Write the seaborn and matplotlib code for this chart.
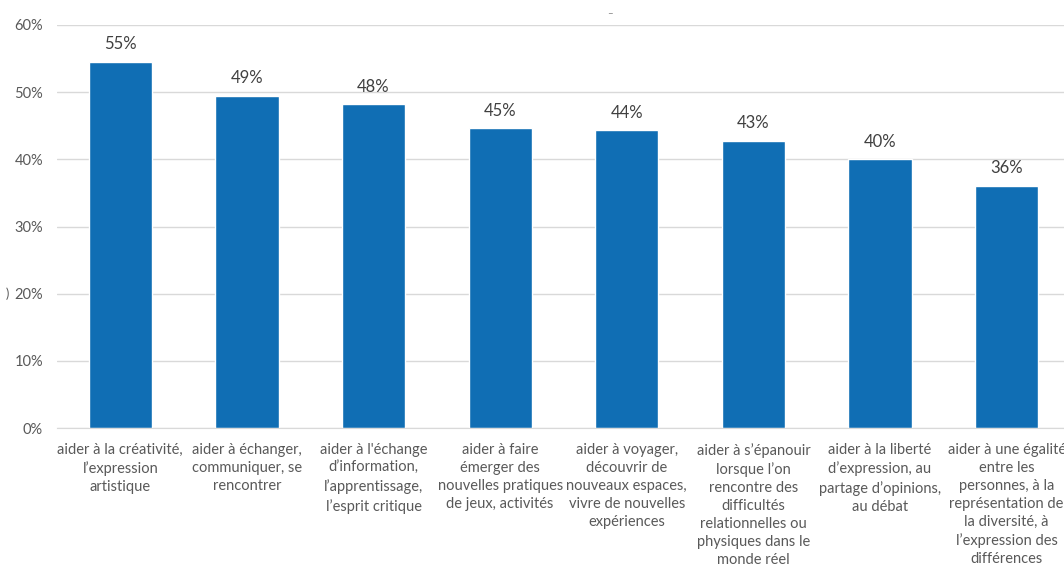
import matplotlib
matplotlib.use("Agg")
import matplotlib.pyplot as plt
import seaborn as sns
import pandas as pd
from matplotlib.ticker import PercentFormatter

# data
labels = [
    "aider à la créativité,\nl’expression\nartistique",
    "aider à échanger,\ncommuniquer, se\nrencontrer",
    "aider à l'échange\nd’information,\nl’apprentissage,\nl’esprit critique",
    "aider à faire\némerger des\nnouvelles pratiques\nde jeux, activités",
    "aider à voyager,\ndécouvrir de\nnouveaux espaces,\nvivre de nouvelles\nexpériences",
    "aider à s’épanouir\nlorsque l’on\nrencontre des\ndifficultés\nrelationnelles ou\nphysiques dans le\nmonde réel",
    "aider à la liberté\nd’expression, au\npartage d’opinions,\nau débat",
    "aider à une égalité\nentre les\npersonnes, à la\nreprésentation de\nla diversité, à\nl’expression des\ndifférences",
]
values = [54.5, 49.4, 48.2, 44.6, 44.3, 42.7, 40.0, 36.0]
shown = ["55%", "49%", "48%", "45%", "44%", "43%", "40%", "36%"]

df = pd.DataFrame({"label": labels, "value": values})

sns.set_style("white")
plt.rcParams["font.family"] = ["Lato", "DejaVu Sans"]

grey = "#595959"
blue = "#106EB4"

fig = plt.figure(figsize=(10.64, 5.65), dpi=100)
ax = fig.add_axes([57 / 1064, 137 / 565, 1013 / 1064, 403 / 565])

sns.barplot(data=df, x="label", y="value", color=blue, width=0.5,
            saturation=1, ax=ax, zorder=2)

ax.set_ylim(0, 60)
ax.set_yticks(range(0, 61, 10))
ax.yaxis.set_major_formatter(PercentFormatter(decimals=0))
ax.grid(axis="y", color="#D9D9D9", linewidth=1, zorder=0)
ax.set_xlabel("")
ax.set_ylabel("")
for s in ["top", "right", "left"]:
    ax.spines[s].set_visible(False)
ax.spines["bottom"].set_color("#D9D9D9")
ax.tick_params(axis="y", length=0, labelsize=10.5, labelcolor=grey, pad=10)
ax.tick_params(axis="x", length=0, labelsize=10.5, labelcolor=grey, pad=11)
for t in ax.get_xticklabels():
    t.set_ha("center")
    t.set_multialignment("center")
    t.set_linespacing(1.36)

for i, p in enumerate(ax.patches):
    ax.annotate(shown[i], (p.get_x() + p.get_width() / 2, p.get_height()),
                xytext=(0, 7), textcoords="offset points", ha="center",
                va="bottom", fontsize=12, color="#404040")

# small artefacts visible in the reference crop
fig.text(610 / 1064, 1 - 14 / 565, "–", fontsize=7, color="#808080",
         ha="center", va="center")
fig.text(7 / 1064, 1 - 294 / 565, ")", fontsize=9, color=grey,
         ha="center", va="center")

fig.savefig("out.png", dpi=100)
